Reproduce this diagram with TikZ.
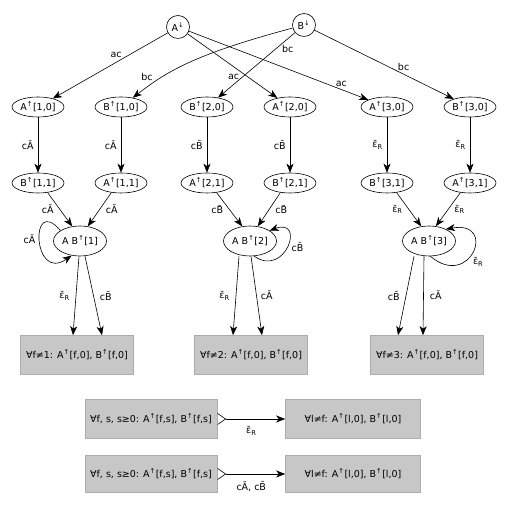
\documentclass[tikz,border=0pt]{standalone}
\usepackage{fontspec}
\setmainfont{DejaVu Sans}
\usetikzlibrary{arrows.meta,shapes.geometric}

\newcommand{\uparr}{\textsuperscript{↑}}
\newcommand{\dnarr}{\textsuperscript{↓}}
\newcommand{\cAb}{cĀ}
\newcommand{\cBb}{cB̄}
\newcommand{\eR}{ε̄\textsubscript{R}}

\tikzset{
  cell/.style={draw, ellipse, minimum width=52pt, minimum height=20pt, inner sep=0.5pt},
  joint/.style={cell, minimum width=53pt, minimum height=30pt},
  init/.style={draw, circle, minimum size=23pt, inner sep=0pt},
  sumbox/.style={draw=black!32, fill=black!22, minimum height=39pt, inner sep=2pt},
  lbl/.style={inner sep=1pt},
  arr/.style={-{Stealth[length=9pt,width=7pt,inset=2.5pt]}},
  pairarr/.style={{Straight Barb[reversed,length=8pt,width=11pt]}-{Stealth[length=9pt,width=7pt,inset=2.5pt]}}
}

\begin{document}
\begin{tikzpicture}[x=1pt, y=1pt, font={\fontsize{9.5}{11}\selectfont}, line width=0.6pt]

\useasboundingbox (0,0) rectangle (509,505);

\node [init] (adn) at (178,478) {A\dnarr};
\node [init] (bdn) at (304,480) {B\dnarr};

\node [cell] (a10) at (38,398) {A\uparr[1,0]};
\node [cell] (b10) at (121,398) {B\uparr[1,0]};
\node [cell] (b20) at (207,398) {B\uparr[2,0]};
\node [cell] (a20) at (290,398) {A\uparr[2,0]};
\node [cell] (a30) at (387,398) {A\uparr[3,0]};
\node [cell] (b30) at (470,398) {B\uparr[3,0]};

\node [cell] (b11) at (38,322) {B\uparr[1,1]};
\node [cell] (a11) at (121,322) {A\uparr[1,1]};
\node [cell] (a21) at (207,322) {A\uparr[2,1]};
\node [cell] (b21) at (290,322) {B\uparr[2,1]};
\node [cell] (b31) at (387,322) {B\uparr[3,1]};
\node [cell] (a31) at (470,322) {A\uparr[3,1]};

\node [joint] (ab1) at (80,264) {A B\uparr[1]};
\node [joint] (ab2) at (250,264) {A B\uparr[2]};
\node [joint] (ab3) at (429,264) {A B\uparr[3]};

\node [sumbox, minimum width=113pt] (box1) at (77,150) {∀f≠1: A\uparr[f,0], B\uparr[f,0]};
\node [sumbox, minimum width=113pt] (box2) at (251,150) {∀f≠2: A\uparr[f,0], B\uparr[f,0]};
\node [sumbox, minimum width=113pt] (box3) at (427,150) {∀f≠3: A\uparr[f,0], B\uparr[f,0]};

\node [sumbox, minimum width=132pt] (lf1) at (151,86) {∀f, s, s≥0: A\uparr[f,s], B\uparr[f,s]};
\node [sumbox, minimum width=135pt] (rt1) at (353,86) {∀l≠f: A\uparr[l,0], B\uparr[l,0]};
\node [sumbox, minimum width=132pt, minimum height=37pt] (lf2) at (151,31) {∀f, s, s≥0: A\uparr[f,s], B\uparr[f,s]};
\node [sumbox, minimum width=135pt, minimum height=37pt] (rt2) at (353,31) {∀l≠f: A\uparr[l,0], B\uparr[l,0]};

\draw [arr] (adn) -- node [lbl, pos=0.45, above=3pt] {ac} (a10);
\draw [arr] (adn) -- node [lbl, pos=0.6, below left=1pt] {ac} (a20);
\draw [arr] (adn) -- node [lbl, pos=0.85, above=2pt] {ac} (a30);
\draw [arr] (bdn) .. controls +(195:110) and +(38:60) .. node [lbl, pos=0.8, above left] {bc} (b10);
\draw [arr] (bdn) -- node [lbl, pos=0.25, right=5pt] {bc} (b20);
\draw [arr] (bdn) -- node [lbl, pos=0.64, above=2pt] {bc} (b30);

\draw [arr] (a10) -- node [lbl, left=3pt] {\cAb} (b11);
\draw [arr] (b10) -- node [lbl, left=3pt] {\cAb} (a11);
\draw [arr] (b20) -- node [lbl, left=3pt] {\cBb} (a21);
\draw [arr] (a20) -- node [lbl, left=3pt] {\cBb} (b21);
\draw [arr] (a30) -- node [lbl, left=3pt] {\eR} (b31);
\draw [arr] (b30) -- node [lbl, left=3pt] {\eR} (a31);

\draw [arr] (b11.-45) -- node [lbl, left=5pt] {\cAb} (ab1.118);
\draw [arr] (a11.225) -- node [lbl, right=5pt] {\cAb} (ab1.62);
\draw [arr] (a21.-45) -- node [lbl, left=5pt] {\cBb} (ab2.118);
\draw [arr] (b21.225) -- node [lbl, right=5pt] {\cBb} (ab2.62);
\draw [arr] (b31.-45) -- node [lbl, left=5pt] {\eR} (ab3.118);
\draw [arr] (a31.225) -- node [lbl, right=5pt] {\eR} (ab3.65);

\draw [arr] (ab1.152) to [out=130, in=215, looseness=4.5] node [lbl, left=3pt] {\cAb} (ab1.240);
\draw [arr] (ab2.285) to [out=325, in=20, looseness=3.3] node [lbl, right=3pt] {\cBb} (ab2.28);
\draw [arr] (ab3.275) to [out=320, in=10, looseness=4.3] node [lbl, pos=0.45, below right=1pt] {\eR} (ab3.35);

\draw [arr] ([xshift=-1pt]ab1.south) -- node [lbl, left=5pt] {\eR} ([xshift=-4pt]box1.north);
\draw [arr] ([xshift=5pt]ab1.south) -- node [lbl, right=5pt] {\cBb} ([xshift=25pt]box1.north);
\draw [arr] ([xshift=-11pt]ab2.south) -- node [lbl, left=5pt] {\eR} ([xshift=-18pt]box2.north);
\draw [arr] ([xshift=1pt]ab2.south) -- node [lbl, right=3pt] {\cAb} ([xshift=11pt]box2.north);
\draw [arr] ([xshift=-15pt]ab3.south) -- node [lbl, left=5pt] {\cBb} ([xshift=-29pt]box3.north);
\draw [arr] ([xshift=-5pt]ab3.south) -- node [lbl, right=5pt] {\cAb} ([xshift=-4pt]box3.north);

\draw [pairarr] (lf1) -- node [lbl, below=6pt] {\eR} (rt1);
\draw [pairarr] (lf2) -- node [lbl, below=6pt] {\cAb, \cBb} (rt2);

\end{tikzpicture}
\end{document}
